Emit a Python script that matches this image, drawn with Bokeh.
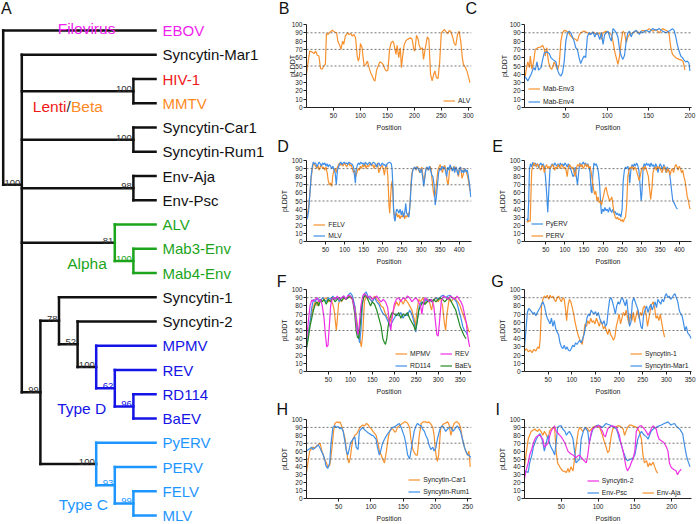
from bokeh.plotting import figure
from bokeh.layouts import row, column
from bokeh.models import (Range1d, FixedTicker, Span, Legend, LegendItem, Label,
                          ColumnDataSource)
from bokeh.core.properties import value
from bokeh.embed import file_html
from bokeh.resources import INLINE

FONT = "Liberation Sans"

# ---------------- colours ----------------
BLACK = "#111111"
T_MAGENTA = "#EE1EEE"
T_RED = "#F01818"
T_ORANGE = "#FF8A25"
T_GREEN = "#1CA51C"
T_BLUE_D = "#1414E6"
T_BLUE_C = "#1E96FF"
ORANGE = "#F7912E"
BLUE = "#3F8FE8"
MAGENTA = "#EE2EE4"
GREEN = "#238B23"

# ---------------- Panel A : tree ----------------
TIPS = ["EBOV", "Syncytin-Mar1", "HIV-1", "MMTV", "Syncytin-Car1", "Syncytin-Rum1",
        "Env-Aja", "Env-Psc", "ALV", "Mab3-Env", "Mab4-Env", "Syncytin-1", "Syncytin-2",
        "MPMV", "REV", "RD114", "BaEV", "PyERV", "PERV", "FELV", "MLV"]
TIP_COLORS = [T_MAGENTA, BLACK, T_RED, T_ORANGE, BLACK, BLACK, BLACK, BLACK,
              T_GREEN, T_GREEN, T_GREEN, BLACK, BLACK,
              T_BLUE_D, T_BLUE_D, T_BLUE_D, T_BLUE_D,
              T_BLUE_C, T_BLUE_C, T_BLUE_C, T_BLUE_C]
NODE_CHILDREN = {
    "root": ["EBOV", "n1"],
    "n1": ["Syncytin-Mar1", "lenti", "car", "aja", "alpha", "n99"],
    "lenti": ["HIV-1", "MMTV"],
    "car": ["Syncytin-Car1", "Syncytin-Rum1"],
    "aja": ["Env-Aja", "Env-Psc"],
    "alpha": ["ALV", "mab"],
    "mab": ["Mab3-Env", "Mab4-Env"],
    "n99": ["n78", "typeC"],
    "n78": ["Syncytin-1", "n52"],
    "n52": ["Syncytin-2", "typeD"],
    "typeD": ["MPMV", "n62"],
    "n62": ["REV", "n96"],
    "n96": ["RD114", "BaEV"],
    "typeC": ["PyERV", "n93"],
    "n93": ["PERV", "n99c"],
    "n99c": ["FELV", "MLV"],
}
NODE_LEVEL = {"root": 0, "n1": 1, "lenti": 7, "car": 7, "aja": 7, "alpha": 6, "mab": 7,
              "n99": 2, "n78": 3, "n52": 4, "typeD": 5, "n62": 6, "n96": 7,
              "typeC": 5, "n93": 6, "n99c": 7}
NODE_SUPPORT = {"n1": "100", "lenti": "100", "car": "100", "aja": "98", "alpha": "81",
                "mab": "100", "n99": "99", "n78": "78", "n52": "52", "typeD": "100",
                "n62": "62", "n96": "96", "typeC": "100", "n93": "93", "n99c": "99"}
CLADE_COLOR = {"alpha": T_GREEN, "typeD": T_BLUE_D, "typeC": T_BLUE_C}
TIP_LEVEL = 8.19
CLADE_LABELS = ["Filovirus", "Lenti", "/", "Beta", "Alpha", "Type D", "Type C"]
CLADE_LABEL_COLORS = [T_MAGENTA, T_RED, "#333333", T_ORANGE, T_GREEN, T_BLUE_D, T_BLUE_C]

# ---------------- Panels B-I : pLDDT profiles (position, pLDDT) ----------------
ALV = [(0,40),(3,55),(6,68),(10,67),(14,65),(17,68),(20,63),(23,62),(26,47),(29,46),
       (32,50),(35,52),(37,89),(40,88),(44,91),(48,93),(52,91),(56,90),(58,80),(62,74),
       (64,70),(67,80),(69,76),(72,86),(76,90),(79,88),(82,89),(85,86),(88,88),(91,84),
       (94,62),(96,56),(98,60),(100,77),(103,72),(105,60),(107,50),(110,52),(113,56),(116,48),
       (119,42),(122,38),(125,33),(127,32),(130,45),(133,50),(136,55),(139,54),(142,52),(145,47),
       (148,44),(151,45),(154,70),(157,78),(160,80),(162,77),(164,70),(166,64),(168,75),(171,60),
       (174,72),(176,48),(178,60),(181,75),(184,80),(187,82),(190,83),(193,84),(196,82),(199,70),
       (201,68),(204,87),(207,82),(209,75),(212,70),(215,72),(217,58),(220,70),(224,85),(227,82),
       (230,40),(233,32),(236,40),(238,44),(241,36),(244,35),(247,55),(250,90),(253,92),(256,94),
       (259,91),(262,89),(265,93),(268,91),(271,85),(274,77),(277,75),(280,88),(283,92),(286,80),
       (289,60),(291,52),(294,49),(297,45),(300,38),(303,30)]

MAB_ENV3 = [(1,38),(2,45),(4,55),(6,48),(7,62),(9,46),(11,55),(13,70),(16,72),(20,73),(22,75),
            (24,70),(25,62),(27,72),(29,55),(31,48),(33,46),(36,55),(38,50),(40,45),(42,52),
            (44,80),(46,90),(48,93),(51,92),(54,89),(56,86),(58,84),(62,82),(64,80),(66,87),
            (68,90),(72,92),(76,90),(79,88),(83,91),(87,88),(91,90),(93,82),(95,90),(99,92),
            (103,89),(105,88),(107,80),(109,68),(111,60),(113,52),(115,62),(117,80),(119,92),
            (121,90),(123,78),(125,85),(127,88),(131,90),(135,92),(139,90),(143,93),(147,92),
            (151,95),(155,92),(159,94),(163,90),(167,95),(171,93),(173,92),(175,88),(177,72),
            (179,64),(183,60),(187,58),(190,57),(192,55),(194,45)]
MAB_ENV4 = [(0,38),(2,35),(4,32),(6,36),(8,40),(11,48),(13,45),(15,55),(17,45),(20,48),(22,58),
            (24,66),(27,67),(30,65),(32,60),(34,58),(38,55),(40,45),(42,40),(44,38),(46,42),
            (48,55),(50,80),(52,90),(54,92),(56,90),(58,85),(60,80),(62,72),(64,70),(66,60),
            (68,53),(70,58),(72,62),(74,60),(76,85),(78,90),(80,88),(83,91),(85,85),(87,90),
            (89,88),(91,82),(93,90),(95,76),(97,88),(99,90),(101,92),(103,85),(105,80),(107,95),
            (109,93),(111,90),(113,85),(115,70),(117,62),(119,58),(121,63),(123,80),(125,90),
            (127,92),(129,85),(131,90),(135,93),(139,88),(141,92),(143,90),(147,93),(151,91),
            (155,95),(159,93),(163,95),(167,92),(171,90),(175,92),(179,95),(181,93),(183,85),
            (185,75),(187,68),(189,62),(191,60),(193,57),(195,55),(197,56),(199,53),(200,44)]

FELV = [(0,30),(3,35),(6,45),(9,60),(12,78),(15,88),(18,97),(21,95),(24,93),(27,90),(30,94),
        (33,88),(36,92),(39,95),(42,90),(45,92),(48,88),(51,92),(54,85),(57,75),(60,70),(63,72),
        (66,68),(69,82),(72,88),(75,90),(78,85),(81,92),(84,95),(87,97),(90,94),(93,96),(96,93),
        (99,97),(102,95),(105,92),(108,95),(111,97),(114,93),(117,95),(120,90),(123,85),(126,88),
        (129,80),(132,85),(135,90),(138,88),(141,93),(144,90),(147,95),(150,92),(153,96),(156,90),
        (159,94),(162,92),(165,95),(168,97),(171,93),(174,95),(177,90),(180,95),(183,92),(186,97),
        (189,85),(192,88),(195,92),(198,94),(201,90),(204,82),(207,92),(210,95),(213,80),(216,45),
        (218,35),(220,55),(222,68),(224,75),(226,60),(228,40),(230,33),(233,30),(236,35),(239,30),
        (242,33),(245,28),(248,32),(251,30),(254,35),(257,28),(260,32),(263,30),(266,35),(269,33),
        (272,55),(275,82),(278,88),(281,90),(284,92),(287,88),(290,93),(293,90),(296,85),(299,88),
        (302,92),(305,80),(308,72),(311,85),(314,92),(317,90),(320,88),(323,93),(326,90),(329,75),
        (332,62),(335,55),(338,60),(341,75),(344,88),(347,92),(350,95),(353,90),(356,85),(359,92),
        (362,94),(365,88),(368,75),(371,70),(374,85),(377,93),(380,90),(383,87),(386,93),(389,88),
        (392,92),(395,85),(398,80),(401,90),(404,92),(407,78),(410,82),(413,90),(416,88),(419,85),
        (422,80),(425,72),(428,62)]
MLV = [(0,27),(3,30),(6,40),(9,60),(12,80),(15,92),(18,98),(21,96),(24,97),(27,92),(30,95),
       (33,98),(36,96),(39,93),(42,97),(45,95),(48,97),(51,93),(54,96),(57,92),(60,95),(63,93),
       (66,90),(69,93),(72,88),(75,85),(78,70),(81,88),(84,92),(87,96),(90,98),(93,95),(96,97),
       (99,98),(102,96),(105,97),(108,95),(111,98),(114,97),(117,96),(120,95),(123,92),(126,80),
       (128,72),(130,88),(133,94),(136,97),(139,95),(142,98),(145,96),(148,97),(151,94),(154,98),
       (157,96),(160,95),(163,97),(166,98),(169,94),(172,96),(175,98),(178,97),(181,95),(184,92),
       (187,96),(190,97),(193,93),(196,95),(199,97),(202,94),(205,95),(208,92),(211,96),(214,97),
       (217,98),(220,97),(222,96),(224,90),(226,70),(228,40),(230,28),(232,25),(234,35),(236,40),
       (239,38),(242,35),(245,40),(248,33),(251,38),(254,30),(257,35),(260,47),(262,35),(265,33),
       (268,30),(271,45),(274,70),(277,85),(280,90),(283,92),(286,89),(289,92),(292,90),(295,88),
       (298,85),(301,90),(304,80),(307,68),(310,80),(313,90),(316,92),(319,88),(322,93),(325,88),
       (328,82),(331,80),(334,70),(337,45),(340,55),(343,70),(346,85),(349,90),(352,88),(355,93),
       (358,90),(361,92),(364,87),(367,80),(370,92),(373,88),(376,95),(379,90),(382,87),(385,92),
       (388,85),(391,92),(394,88),(397,82),(400,90),(403,92),(406,85),(409,88),(412,85),(415,90),
       (418,86),(421,88),(424,80),(427,70),(430,55)]

PYERV = [(0,28),(3,25),(5,50),(7,90),(10,96),(13,92),(16,98),(19,93),(22,97),(25,94),(28,96),
         (31,91),(34,95),(37,97),(40,93),(43,96),(46,92),(49,80),(52,60),(55,36),(58,65),(61,90),
         (64,94),(67,96),(70,92),(73,97),(76,95),(79,93),(82,96),(85,92),(88,97),(91,94),(94,96),
         (97,93),(100,97),(103,95),(106,92),(109,96),(112,93),(115,90),(118,85),(121,80),(124,82),
         (127,92),(130,80),(133,70),(136,85),(139,97),(142,94),(145,96),(148,98),(151,95),(154,97),
         (157,93),(160,96),(163,92),(166,85),(169,62),(171,60),(173,80),(176,97),(179,94),(182,96),
         (185,92),(188,85),(191,70),(194,45),(196,34),(199,40),(202,37),(205,42),(208,38),(211,40),
         (214,36),(217,42),(220,38),(223,36),(226,40),(229,35),(232,37),(235,33),(238,35),(241,32),
         (244,34),(247,30),(250,40),(253,75),(256,88),(259,92),(262,90),(265,93),(268,85),(270,72),
         (273,88),(276,95),(279,92),(282,96),(285,93),(288,97),(291,94),(294,88),(297,70),(300,50),
         (302,60),(305,90),(308,96),(311,93),(314,97),(317,94),(320,96),(323,92),(326,97),(329,93),
         (332,95),(335,90),(338,96),(341,93),(344,85),(347,92),(350,96),(353,93),(356,88),(359,95),
         (362,92),(365,85),(368,92),(371,90),(374,85),(377,75),(380,62),(383,50),(386,48),(389,45),
         (392,42),(395,40)]
PERV = [(0,25),(3,24),(6,26),(9,25),(11,60),(13,88),(16,93),(19,97),(22,95),(25,92),(28,96),
        (31,94),(34,90),(37,88),(40,94),(43,93),(46,85),(49,92),(52,95),(55,90),(58,93),(61,90),
        (64,92),(67,95),(70,93),(73,88),(76,92),(79,90),(82,95),(85,92),(88,90),(91,95),(94,93),
        (97,90),(100,92),(103,88),(106,80),(109,92),(112,95),(115,93),(118,90),(121,92),(124,85),
        (127,80),(130,90),(133,95),(136,93),(139,96),(142,92),(145,95),(148,90),(151,93),(154,96),
        (157,92),(160,95),(163,90),(166,93),(169,85),(172,75),(175,65),(178,58),(181,62),(184,50),
        (187,55),(190,48),(193,50),(196,45),(199,52),(202,58),(205,65),(208,67),(211,60),(214,55),
        (217,50),(220,52),(223,55),(226,45),(229,35),(232,30),(235,28),(238,30),(241,27),(244,28),
        (247,25),(250,27),(253,24),(256,28),(259,30),(262,45),(265,80),(268,88),(271,92),(274,90),
        (277,93),(280,88),(283,92),(286,90),(289,85),(292,80),(295,75),(298,82),(301,90),(304,92),
        (307,88),(310,93),(313,90),(316,85),(319,80),(322,65),(325,52),(328,65),(331,85),(334,90),
        (337,92),(340,88),(343,93),(346,90),(349,92),(352,88),(355,85),(358,90),(361,93),(364,88),
        (367,85),(370,90),(373,87),(376,82),(379,88),(382,90),(385,85),(388,92),(391,95),(394,92),
        (397,88),(400,93),(403,90),(406,85),(409,88),(412,80),(415,75),(418,65),(421,55),(424,50),
        (427,42),(429,40)]

MPMV = [(0,35),(5,50),(10,65),(15,78),(20,85),(25,80),(30,88),(35,85),(40,88),(45,90),(50,85),
        (55,88),(60,82),(63,75),(66,60),(68,50),(70,62),(73,82),(76,88),(80,85),(85,90),(90,88),
        (95,92),(100,90),(105,88),(110,80),(114,65),(118,50),(122,38),(125,30),(128,45),(132,85),
        (136,92),(140,90),(145,88),(150,85),(155,92),(160,88),(165,85),(170,80),(175,78),(180,70),
        (185,65),(190,60),(195,68),(200,78),(205,85),(210,80),(215,88),(220,82),(225,88),(230,85),
        (235,80),(240,75),(245,65),(248,55),(252,75),(256,88),(260,85),(265,90),(270,82),(275,88),
        (280,85),(285,75),(290,88),(295,90),(300,85),(305,90),(310,80),(314,60),(317,50),(320,70),
        (325,88),(330,85),(335,90),(340,88),(345,85),(350,80),(355,72),(360,65),(365,58),(369,50),
        (372,48)]
REV = [(0,40),(4,60),(8,80),(12,87),(16,86),(20,88),(24,90),(28,85),(32,88),(36,80),(40,65),
       (43,45),(46,30),(49,32),(52,55),(55,80),(58,88),(62,90),(66,88),(70,92),(75,88),(80,90),
       (85,92),(90,88),(95,93),(100,92),(105,88),(110,75),(114,55),(117,45),(120,55),(124,80),
       (128,92),(132,95),(136,93),(140,90),(145,92),(150,88),(155,90),(160,92),(165,88),(170,85),
       (175,88),(180,85),(185,78),(189,60),(192,50),(195,65),(200,82),(205,88),(210,90),(215,85),
       (220,90),(225,88),(230,92),(235,90),(240,85),(245,88),(250,90),(255,85),(260,80),(263,70),
       (266,82),(270,90),(275,88),(280,85),(285,88),(290,80),(294,60),(297,45),(300,43),(303,60),
       (307,85),(312,92),(318,90),(323,88),(328,92),(333,90),(338,88),(343,92),(348,88),(352,85),
       (356,80),(360,70),(364,60),(367,45),(370,35),(372,30)]
RD114 = [(0,30),(4,45),(8,60),(12,78),(16,88),(20,85),(24,90),(28,88),(32,85),(36,90),(40,88),
         (45,85),(50,90),(55,88),(60,92),(65,88),(70,90),(75,85),(80,90),(85,92),(90,88),(95,93),
         (100,96),(105,92),(110,80),(114,60),(118,45),(121,35),(124,50),(128,85),(132,95),(136,97),
         (140,92),(145,88),(150,85),(155,90),(160,85),(165,82),(170,75),(175,70),(180,68),(185,62),
         (190,55),(195,60),(200,65),(205,70),(210,68),(215,72),(220,65),(225,70),(230,68),(235,75),
         (240,70),(245,60),(249,48),(253,65),(257,80),(262,85),(267,82),(272,88),(277,85),(282,88),
         (287,85),(292,88),(297,90),(302,88),(307,92),(312,93),(317,90),(322,92),(327,93),(332,90),
         (337,88),(342,85),(347,75),(352,65),(356,55),(360,50),(364,48),(366,45)]
BAEV = [(0,28),(4,40),(8,55),(12,65),(16,75),(20,82),(24,85),(28,80),(32,88),(36,85),(40,88),
        (45,82),(50,88),(55,85),(60,90),(65,85),(70,88),(75,90),(80,86),(85,90),(90,88),(95,90),
        (100,92),(105,88),(110,70),(113,50),(116,42),(119,40),(122,55),(126,80),(130,90),(134,93),
        (138,90),(142,85),(146,80),(150,85),(155,82),(160,75),(165,65),(170,55),(174,40),(177,36),
        (180,33),(183,40),(186,55),(190,65),(195,72),(200,70),(205,68),(210,72),(215,65),(220,70),
        (225,68),(230,72),(235,65),(240,60),(245,55),(248,50),(252,60),(256,75),(260,80),(265,85),
        (270,82),(275,85),(280,88),(285,85),(290,88),(295,85),(300,88),(305,90),(310,88),(315,85),
        (320,88),(325,90),(330,85),(335,80),(340,75),(345,65),(350,55),(354,50),(358,45),(361,42),
        (364,40)]

SYNCYTIN_1 = [(0,25),(4,28),(8,24),(12,26),(16,23),(20,27),(24,25),(28,30),(31,28),(33,38),
              (36,80),(39,88),(42,92),(45,90),(48,93),(51,88),(54,93),(57,90),(60,92),(63,88),
              (66,85),(69,90),(72,92),(75,88),(78,85),(81,90),(84,88),(87,75),(89,62),(92,80),
              (95,88),(98,85),(101,78),(104,70),(107,60),(110,52),(113,45),(116,40),(119,36),
              (122,33),(125,45),(128,58),(131,55),(134,62),(137,58),(140,65),(143,60),(146,62),
              (149,58),(152,65),(155,60),(158,55),(161,62),(164,58),(167,52),(170,55),(173,50),
              (176,45),(179,52),(182,45),(185,42),(188,38),(191,42),(194,55),(197,62),(200,70),
              (203,58),(206,65),(209,72),(212,68),(215,75),(218,65),(221,58),(224,70),(227,62),
              (230,72),(233,60),(236,68),(239,75),(242,65),(245,72),(248,68),(251,78),(254,80),
              (257,70),(260,55),(263,65),(266,75),(269,82),(272,85),(275,78),(278,65),(281,68),
              (284,62),(287,70),(290,60),(293,50),(296,42)]
SYNCYTIN_MAR1 = [(0,30),(3,50),(6,72),(9,77),(12,75),(15,73),(18,70),(21,72),(24,68),(27,72),
                 (30,75),(33,78),(36,82),(39,85),(42,80),(45,72),(48,65),(51,62),(54,58),(57,65),
                 (60,55),(63,62),(66,52),(69,48),(72,45),(75,35),(78,30),(81,28),(84,32),(87,27),
                 (90,30),(93,26),(96,25),(99,28),(102,32),(105,30),(108,35),(111,33),(114,36),
                 (117,38),(120,35),(123,40),(126,45),(129,55),(132,65),(135,70),(138,68),(141,75),
                 (144,72),(147,70),(150,73),(153,68),(156,72),(159,65),(162,60),(165,58),(168,62),
                 (171,55),(174,58),(177,75),(180,88),(183,90),(186,85),(189,78),(192,70),(195,80),
                 (198,85),(201,82),(204,88),(207,90),(210,85),(213,80),(216,88),(219,72),(222,55),
                 (225,60),(228,85),(231,90),(234,85),(237,80),(240,75),(243,65),(246,55),(249,52),
                 (252,70),(255,75),(258,80),(261,72),(264,78),(267,82),(270,75),(273,80),(276,85),
                 (279,78),(282,88),(285,85),(288,82),(291,88),(294,85),(297,92),(300,95),(303,90),
                 (306,92),(309,88),(312,90),(315,93),(318,95),(321,90),(324,85),(327,75),(330,70),
                 (333,68),(336,60),(339,50),(342,55),(345,47),(348,45),(351,42),(352,40)]

SYNCYTIN_CAR1 = [(0,33),(3,50),(5,60),(8,63),(10,65),(13,64),(16,67),(18,68),(21,70),(24,60),
                 (26,55),(28,50),(31,45),(33,40),(36,42),(39,60),(42,85),(44,95),(47,97),(50,96),
                 (52,97),(54,93),(57,85),(60,75),(62,60),(64,50),(66,45),(68,52),(70,65),(72,75),
                 (75,80),(78,82),(80,85),(83,90),(87,93),(90,92),(93,95),(96,93),(98,90),(101,88),
                 (103,85),(106,82),(108,80),(111,70),(113,60),(116,55),(118,50),(121,45),(124,60),
                 (127,78),(129,85),(132,88),(134,88),(137,84),(139,85),(141,90),(144,92),(147,94),
                 (149,95),(152,97),(154,97),(157,95),(160,90),(162,75),(165,62),(168,57),(170,55),
                 (172,55),(175,80),(178,95),(181,97),(185,97),(188,96),(190,97),(193,94),(196,90),
                 (198,80),(199,70),(201,55),(203,47),(205,55),(206,65),(208,88),(211,93),(214,95),
                 (217,96),(219,97),(221,94),(224,80),(227,90),(229,95),(232,97),(234,97),(237,94),
                 (239,90),(242,75),(245,65),(247,60),(250,55),(252,60),(254,40)]
SYNCYTIN_RUM1 = [(0,60),(3,62),(5,63),(8,65),(10,62),(13,64),(16,66),(18,68),(21,64),(23,60),
                 (26,55),(28,50),(30,42),(31,40),(33,38),(36,45),(38,70),(41,90),(44,92),(46,90),
                 (49,91),(52,88),(54,90),(57,85),(59,75),(62,60),(64,55),(67,65),(68,70),(72,75),
                 (75,78),(77,65),(80,62),(82,85),(85,88),(87,90),(90,87),(93,85),(96,83),(98,82),
                 (101,80),(103,80),(106,77),(108,75),(110,65),(113,55),(115,60),(118,70),(121,75),
                 (123,78),(126,82),(129,85),(131,88),(134,90),(137,91),(139,92),(142,94),(144,95),
                 (147,90),(149,85),(152,78),(154,70),(157,55),(160,50),(162,60),(165,75),(167,85),
                 (170,92),(172,95),(175,93),(178,92),(180,88),(183,85),(185,80),(188,75),(190,68),
                 (193,62),(196,65),(198,60),(201,65),(203,75),(206,85),(208,90),(211,92),(214,88),
                 (216,85),(219,88),(222,90),(224,90),(227,85),(229,87),(232,90),(234,92),(237,88),
                 (239,85),(242,75),(245,65),(247,60),(250,55),(252,55),(255,52)]

SYNCYTIN_2 = [(0,25),(2,35),(5,45),(7,55),(10,63),(12,70),(14,75),(16,78),(19,80),(21,80),
              (23,77),(25,75),(27,65),(30,68),(32,70),(34,78),(36,85),(38,88),(41,92),(43,85),
              (46,82),(48,80),(50,78),(52,75),(55,70),(57,65),(59,60),(61,58),(64,56),(66,55),
              (68,53),(70,52),(73,54),(75,55),(77,52),(79,50),(82,47),(84,45),(86,55),(88,70),
              (91,85),(93,88),(95,90),(98,91),(100,92),(102,92),(104,88),(106,85),(108,80),(110,78),
              (113,88),(115,90),(118,92),(120,92),(122,91),(125,90),(127,85),(129,80),(131,70),
              (134,60),(136,50),(138,40),(140,35),(143,40),(145,45),(148,52),(150,60),(152,85),
              (155,90),(157,92),(159,92),(161,90),(163,88),(166,84),(168,80),(171,85),(173,90),
              (175,92),(177,90),(179,88),(181,80),(183,75),(186,73),(188,72),(190,70),(193,65),
              (195,60),(197,45),(199,40),(201,38),(204,36),(206,35),(208,30),(210,34),(211,35),
              (213,37)]
ENV_PSC = [(0,35),(2,34),(5,33),(7,45),(10,55),(12,65),(14,70),(16,75),(19,80),(21,82),(23,78),
           (25,70),(27,60),(29,68),(32,80),(34,70),(36,65),(39,60),(41,55),(43,70),(45,90),(48,92),
           (50,92),(52,88),(55,85),(57,80),(59,83),(61,85),(64,80),(66,75),(68,60),(70,45),(73,48),
           (75,50),(77,75),(80,85),(82,90),(84,88),(86,85),(88,70),(91,82),(93,88),(95,90),(98,92),
           (100,93),(102,92),(104,91),(106,90),(109,93),(111,95),(113,94),(116,93),(118,92),
           (120,91),(122,90),(125,88),(127,82),(129,75),(131,70),(134,60),(136,55),(138,50),
           (140,48),(143,49),(145,50),(148,52),(150,55),(152,65),(154,75),(157,82),(159,85),
           (161,82),(163,80),(166,78),(168,75),(170,80),(172,85),(175,88),(177,89),(179,90),
           (181,91),(183,92),(186,93),(188,94),(190,95),(193,96),(195,97),(197,95),(199,93),
           (201,94),(204,95),(206,92),(208,90),(211,88),(213,85),(215,82),(217,70),(220,55),
           (222,48),(225,40)]
ENV_AJA = [(0,40),(2,55),(5,75),(7,80),(9,85),(11,86),(14,88),(16,86),(18,85),(20,88),(23,84),
           (25,80),(27,85),(30,80),(32,75),(34,85),(36,88),(39,90),(41,88),(43,60),(45,45),(48,40),
           (50,37),(52,35),(55,34),(57,33),(59,38),(61,33),(63,40),(66,35),(68,50),(70,65),(73,85),
           (75,90),(77,88),(79,85),(82,88),(84,90),(86,88),(88,85),(91,88),(93,90),(95,91),(97,92),
           (100,91),(102,90),(104,85),(106,80),(109,70),(111,65),(113,58),(115,60),(118,80),
           (120,88),(122,90),(125,91),(127,92),(129,92),(132,90),(134,88),(136,80),(138,85),
           (140,90),(143,93),(145,93),(147,92),(150,91),(152,90),(154,88),(156,85),(159,75),
           (161,55),(163,45),(166,48),(168,40),(170,45),(172,42),(175,46),(177,40),(179,35),
           (181,32)]

Y_TICKS = list(range(0, 101, 10))
REF_LINES = [50, 70, 90]

# ---------------- layout geometry (pixels) ----------------
TREE_W, TOTAL_H = 270, 524
ROW_H = [134, 133, 130, 127]
ROW_TOP = [24, 26, 22, 22]
ROW_BOT = [27, 24, 24, 22]
LEFT = dict(w=213, bl=36, br=12)
RIGHT = dict(w=213, bl=41, br=5)
LETTER_MID = 5.6   # distance from baseline to text middle for the 16px panel letters


def build_tree():
    px_per_level = 18.6
    px_per_tip = 24.25
    x0 = -2.7 / px_per_level
    y_top = -30.0 / px_per_tip
    p = figure(width=TREE_W, height=TOTAL_H, output_backend="svg", toolbar_location=None,
               x_range=Range1d(x0, x0 + TREE_W / px_per_level),
               y_range=Range1d(y_top + TOTAL_H / px_per_tip, y_top),
               x_axis_location=None, y_axis_location=None,
               min_border=0, min_border_left=0, min_border_right=0,
               min_border_top=0, min_border_bottom=0)
    p.outline_line_color = None
    p.grid.visible = False
    p.title.visible = False

    tip_y = {n: i for i, n in enumerate(TIPS)}
    node_y = {}

    def gy(n):
        if n in tip_y:
            return tip_y[n]
        if n not in node_y:
            ys = [gy(c) for c in NODE_CHILDREN[n]]
            node_y[n] = sum(ys) / len(ys)
        return node_y[n]

    def gx(n):
        return TIP_LEVEL if n in tip_y else NODE_LEVEL[n]

    seg = dict(x0=[], y0=[], x1=[], y1=[], c=[])
    sup = dict(x=[], y=[], t=[], c=[])

    def walk(n, col):
        col = CLADE_COLOR.get(n, col)
        ys = [gy(c) for c in NODE_CHILDREN[n]]
        for k, v in zip(("x0", "y0", "x1", "y1", "c"), (gx(n), min(ys), gx(n), max(ys), col)):
            seg[k].append(v)
        for c in NODE_CHILDREN[n]:
            for k, v in zip(("x0", "y0", "x1", "y1", "c"), (gx(n), gy(c), gx(c), gy(c), col)):
                seg[k].append(v)
            if c in NODE_CHILDREN:
                sup["x"].append(gx(c))
                sup["y"].append(gy(c))
                sup["t"].append(NODE_SUPPORT[c])
                sup["c"].append(col if col != BLACK else "#333333")
                walk(c, col)

    walk("root", BLACK)
    p.segment(x0="x0", y0="y0", x1="x1", y1="y1", line_color="c", line_width=2.5,
              line_cap="square", source=ColumnDataSource(seg))
    p.text(x="x", y="y", text="t", text_color="c", source=ColumnDataSource(sup),
           text_align="right", text_baseline="alphabetic", x_offset=-1.5, y_offset=-2,
           text_font=value(FONT), text_font_size="9.5px")
    tips = ColumnDataSource(dict(x=[TIP_LEVEL] * len(TIPS), y=list(range(len(TIPS))),
                                 t=TIPS, c=TIP_COLORS))
    p.text(x="x", y="y", text="t", text_color="c", source=tips, x_offset=7,
           text_align="left", text_baseline="middle",
           text_font=value(FONT), text_font_size="15px")

    # clade names: anchor positions in tree units (level, tip index)
    clade = ColumnDataSource(dict(
        x=[4.48, 3.40, 3.52, 3.645, 3.44, 2.90, 2.99],
        y=[-0.10, 3.13, 3.13, 3.13, 9.59, 15.57, 19.56],
        t=CLADE_LABELS, c=CLADE_LABEL_COLORS,
        a=["center", "right", "center", "left", "left", "left", "left"]))
    p.text(x="x", y="y", text="t", text_color="c", text_align="a", source=clade,
           text_baseline="alphabetic", text_font=value(FONT), text_font_size="15.5px")

    p.add_layout(Label(x=0.5, y=TOTAL_H - 13.3 + LETTER_MID, x_units="screen",
                       y_units="screen", text="A", text_font=FONT, text_font_size="16px",
                       text_color=BLACK, text_baseline="middle"))
    return p


def build_panel(col, r, x_range, xticks, series, legends, letters, ylab_standoff=1):
    h = ROW_H[r]
    p = figure(width=col["w"], height=h, output_backend="svg", toolbar_location=None,
               x_range=Range1d(*x_range), y_range=Range1d(0, 100),
               min_border_left=col["bl"], min_border_right=col["br"],
               min_border_top=ROW_TOP[r], min_border_bottom=ROW_BOT[r])
    p.title.visible = False
    p.outline_line_color = None
    p.grid.visible = False
    p.xaxis.ticker = FixedTicker(ticks=xticks)
    p.yaxis.ticker = FixedTicker(ticks=Y_TICKS)
    p.xaxis.axis_label = "Position"
    p.yaxis.axis_label = "pLDDT"
    for ax in p.axis:
        ax.axis_line_color = "#222222"
        ax.axis_line_width = 1
        ax.major_tick_line_color = "#222222"
        ax.major_tick_in = 0
        ax.major_tick_out = 3
        ax.minor_tick_line_color = None
        ax.major_label_text_font = FONT
        ax.major_label_text_font_size = "6.5px"
        ax.major_label_text_color = "#222222"
        ax.major_label_standoff = 2
        ax.axis_label_text_font = FONT
        ax.axis_label_text_font_size = "7px"
        ax.axis_label_text_font_style = "normal"
        ax.axis_label_text_color = "#222222"
    p.xaxis.axis_label_standoff = 3
    p.yaxis.major_label_standoff = 1
    p.yaxis.axis_label_standoff = ylab_standoff
    for v in REF_LINES:
        p.add_layout(Span(location=v, dimension="width", line_color="#555555",
                          line_dash="2 2", line_width=0.8))
    rends = {}
    for name, data, color in series:
        xs = [a for a, _ in data]
        ys = [b for _, b in data]
        rends[name] = p.line(xs, ys, line_color=color, line_width=1.2)
    for names, (lx, ly), spacing in legends:
        lg = Legend(items=[LegendItem(label=n, renderers=[rends[n]]) for n in names],
                    location=(lx, ly), orientation="vertical", glyph_width=12,
                    glyph_height=9, label_height=9, spacing=spacing, padding=0, margin=0,
                    border_line_color=None, background_fill_alpha=0,
                    label_text_font=FONT, label_text_font_size="6.8px",
                    label_text_color="#222222", label_standoff=3)
        p.add_layout(lg)
    # panel letters live in side panels (centre annotations are clipped to the frame)
    for txt, dx, dy, side in letters:
        p.add_layout(Label(x=dx, y=dy + LETTER_MID, x_units="screen", y_units="screen",
                           text=txt, text_font=FONT, text_font_size="16px",
                           text_color=BLACK, text_baseline="middle"), side)
    return p


tree = build_tree()
pB = build_panel(LEFT, 0, (0, 306), [50, 100, 150, 200, 250, 300],
                 [("ALV", ALV, ORANGE)],
                 [(["ALV"], (137, 2.5), 3)],
                 [("B", -27.7, 10, "above"), ("C", -6, 93, "right")], ylab_standoff=-7)
pC = build_panel(RIGHT, 0, (0, 202), [50, 100, 150, 200],
                 [("Mab-Env3", MAB_ENV3, ORANGE), ("Mab-Env4", MAB_ENV4, BLUE)],
                 [(["Mab-Env3", "Mab-Env4"], (4, 1.1), 4)],
                 [], ylab_standoff=-1)
pD = build_panel(LEFT, 1, (0, 432), [50, 100, 150, 200, 250, 300, 350, 400],
                 [("FELV", FELV, ORANGE), ("MLV", MLV, BLUE)],
                 [(["FELV", "MLV"], (7.3, 1.5), 2)],
                 [("D", -29.3, 8.3, "above")])
pE = build_panel(RIGHT, 1, (-6, 432), [50, 100, 150, 200, 250, 300, 350, 400],
                 [("PyERV", PYERV, BLUE), ("PERV", PERV, ORANGE)],
                 [(["PyERV", "PERV"], (6.7, 1.2), 3)],
                 [("E", -32.3, 8.3, "above")])
pF = build_panel(LEFT, 2, (0, 376), [50, 100, 150, 200, 250, 300, 350],
                 [("MPMV", MPMV, ORANGE), ("RD114", RD114, BLUE), ("BaEV", BAEV, GREEN),
                  ("REV", REV, MAGENTA)],
                 [(["MPMV", "RD114"], (89, 1.5), 3), (["REV", "BaEV"], (134, 1.5), 3)],
                 [("F", -29.7, 2.6, "above")])
pG = build_panel(RIGHT, 2, (0, 353), [50, 100, 150, 200, 250, 300, 350],
                 [("Syncytin-1", SYNCYTIN_1, ORANGE), ("Syncytin-Mar1", SYNCYTIN_MAR1, BLUE)],
                 [(["Syncytin-1", "Syncytin-Mar1"], (106, 1.5), 3)],
                 [("G", -33.3, 2.6, "above")])
pH = build_panel(LEFT, 3, (0, 256), [50, 100, 150, 200, 250],
                 [("Syncytin-Car1", SYNCYTIN_CAR1, ORANGE),
                  ("Syncytin-Rum1", SYNCYTIN_RUM1, BLUE)],
                 [(["Syncytin-Car1", "Syncytin-Rum1"], (102.3, 1.8), 3)],
                 [("H", -29.9, 4.7, "above")])
pI = build_panel(RIGHT, 3, (0, 227), [50, 100, 150, 200],
                 [("Env-Aja", ENV_AJA, ORANGE), ("Env-Psc", ENV_PSC, BLUE),
                  ("Syncytin-2", SYNCYTIN_2, MAGENTA)],
                 [(["Syncytin-2", "Env-Psc"], (62.7, 1.1), 3), (["Env-Aja"], (117.7, 1.1), 3)],
                 [("I", -29, 4.7, "above")])

layout = row(tree, column(pB, pD, pF, pH), column(pC, pE, pG, pI))
open("out.html", "w").write(file_html(layout, INLINE))
